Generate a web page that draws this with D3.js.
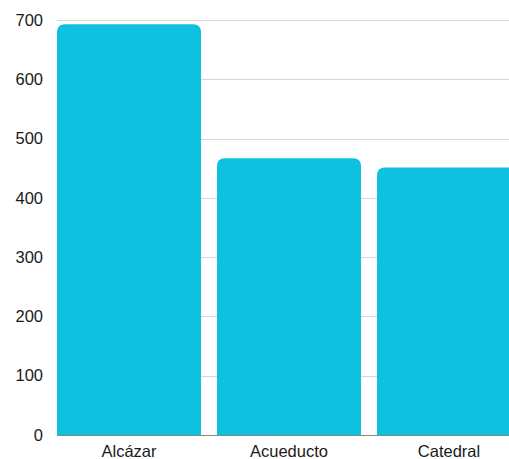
<!DOCTYPE html>
<html><head><meta charset="utf-8">
<script src="https://cdn.jsdelivr.net/npm/d3@7"></script>
<style>body{margin:0;background:#fff}svg{display:block}text{font-family:"Liberation Sans",Arial,sans-serif}</style>
</head><body><svg id="c" width="509" height="459"></svg>
<script>
const categories = ["Alcázar", "Acueducto", "Catedral"];
const values = [693, 467, 451];
const yTicks = [0, 100, 200, 300, 400, 500, 600, 700];

(function () {
const svg = d3.select("#c");
const mLeft = 57, mRight = 509, mTop = 20, mBottom = 435;
const x = d3.scaleBand().domain(categories).range([49, 529]).paddingInner(0.1).paddingOuter(0.05);
const y = d3.scaleLinear().domain([0, 700]).range([mBottom, mTop]);

// gridlines
svg.append("g").selectAll("line").data(yTicks.filter(d => d > 0)).join("line")
  .attr("x1", mLeft).attr("x2", mRight)
  .attr("y1", d => Math.round(y(d)) + 0.5).attr("y2", d => Math.round(y(d)) + 0.5)
  .attr("stroke", "#d6d6d6").attr("stroke-width", 1);

// y labels
svg.append("g").selectAll("text").data(yTicks).join("text")
  .attr("x", 43).attr("y", d => y(d)).attr("dy", "0.35em")
  .attr("text-anchor", "end").attr("font-size", 16.5).attr("fill", "#1a1a1a")
  .text(d => d);

// baseline
svg.append("line").attr("x1", mLeft).attr("x2", mRight)
  .attr("y1", mBottom + 0.5).attr("y2", mBottom + 0.5).attr("stroke", "#888");

// bars with rounded tops
const r = 8;
function barPath(d, i) {
  const x0 = x(categories[i]), w = x.bandwidth(), y0 = y(d), y1 = y(0);
  return `M${x0},${y1}V${y0 + r}Q${x0},${y0} ${x0 + r},${y0}H${x0 + w - r}Q${x0 + w},${y0} ${x0 + w},${y0 + r}V${y1}Z`;
}
svg.append("g").selectAll("path").data(values).join("path")
  .attr("d", barPath).attr("fill", "#0ec1e0");

// x labels
svg.append("g").selectAll("text").data(categories).join("text")
  .attr("x", d => x(d) + x.bandwidth() / 2).attr("y", 451).attr("dy", "0.35em")
  .attr("text-anchor", "middle").attr("font-size", 16.5).attr("fill", "#1a1a1a")
  .text(d => d);
})();
</script></body></html>
